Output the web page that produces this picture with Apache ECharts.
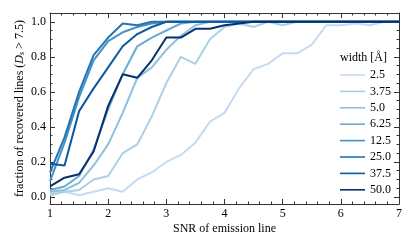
<!DOCTYPE html>
<html><head><meta charset="utf-8">
<script src="https://cdn.jsdelivr.net/npm/echarts@6/dist/echarts.min.js"></script>
<style>html,body{margin:0;padding:0;background:#fff}#c{width:415px;height:249px}</style>
</head><body><div id="c"></div>
<script>
const snr = [1,1.25,1.5,1.75,2,2.25,2.5,2.75,3,3.25,3.5,3.75,4,4.25,4.5,4.75,5,5.25,5.5,5.75,6,6.25,6.5,6.75,7];
const widths = ['2.5','3.75','5.0','6.25','12.5','25.0','37.5','50.0'];
const colors = ['#c6dbef','#abd0e6','#8cc0de','#68abd5','#4592c7','#2474b7','#0e58a2','#08306b'];
const w2_5  = [0.02,0.03,0.01,0.03,0.05,0.03,0.10,0.14,0.20,0.24,0.31,0.43,0.48,0.62,0.73,0.76,0.82,0.82,0.87,0.98,0.98,0.99,0.98,1.0,1.0];
const w3_75 = [0.01,0.03,0.04,0.10,0.12,0.25,0.30,0.46,0.65,0.80,0.76,0.90,0.97,0.99,0.97,1.0,0.98,1.0,1.0,1.0,1.0,1.0,1.0,1.0,1.0];
const w5_0  = [0.03,0.04,0.08,0.18,0.30,0.48,0.68,0.74,0.84,0.92,0.98,1.0,1.0,1.0,1.0,1.0,1.0,1.0,1.0,1.0,1.0,1.0,1.0,1.0,1.0];
const w6_25 = [0.04,0.06,0.12,0.27,0.50,0.70,0.86,0.91,0.95,0.99,1.0,1.0,1.0,1.0,1.0,1.0,1.0,1.0,1.0,1.0,1.0,1.0,1.0,1.0,1.0];
const w12_5 = [0.09,0.31,0.57,0.78,0.89,0.94,0.97,0.99,1.0,1.0,1.0,1.0,1.0,1.0,1.0,1.0,1.0,1.0,1.0,1.0,1.0,1.0,1.0,1.0,1.0];
const w25_0 = [0.14,0.34,0.60,0.81,0.91,0.99,0.98,1.0,1.0,1.0,1.0,1.0,1.0,1.0,1.0,1.0,1.0,1.0,1.0,1.0,1.0,1.0,1.0,1.0,1.0];
const w37_5 = [0.19,0.18,0.49,0.62,0.74,0.86,0.93,0.97,1.0,1.0,1.0,1.0,1.0,1.0,1.0,1.0,1.0,1.0,1.0,1.0,1.0,1.0,1.0,1.0,1.0];
const w50_0 = [0.06,0.11,0.13,0.26,0.52,0.70,0.68,0.78,0.91,0.91,0.96,0.96,0.98,0.99,1.0,1.0,1.0,1.0,1.0,1.0,1.0,1.0,1.0,1.0,1.0];
const values = [w2_5,w3_75,w5_0,w6_25,w12_5,w25_0,w37_5,w50_0];
const yMajor = [0,0.2,0.4,0.6,0.8,1.0];
const yMinor = [0.05,0.1,0.15,0.25,0.3,0.35,0.45,0.5,0.55,0.65,0.7,0.75,0.85,0.9,0.95];

const font = 'Liberation Serif';
const fs = 12;
const axisCol = '#333';
const chart = echarts.init(document.getElementById('c'), null, {renderer:'canvas'});
const xBase = {type:'value', min:1, max:7, interval:1,
  axisLine:{show:true, onZero:false, lineStyle:{color:axisCol, width:1}},
  axisTick:{inside:true, length:5, lineStyle:{color:axisCol}},
  minorTick:{show:true, splitNumber:5, length:2.5, lineStyle:{color:axisCol}},
  splitLine:{show:false}};
const yBase = {type:'value', min:-0.04, max:1.05,
  axisLine:{show:true, onZero:false, lineStyle:{color:axisCol, width:1}},
  splitLine:{show:false}};
chart.setOption({
  animation:false,
  grid:{left:50, right:16, top:13, bottom:45, containLabel:false},
  xAxis:[
    Object.assign({}, xBase, {position:'bottom',
      axisLabel:{color:'#000', fontFamily:font, fontSize:fs, margin:4},
      name:'SNR of emission line', nameLocation:'middle', nameGap:19, nameMoveOverlap:false,
      nameTextStyle:{color:'#000', fontFamily:font, fontSize:fs}}),
    Object.assign({}, xBase, {position:'top', axisLabel:{show:false}})
  ],
  yAxis:[
    Object.assign({}, yBase, {position:'left',
      axisTick:{inside:true, length:5, customValues:yMajor, lineStyle:{color:axisCol}},
      axisLabel:{customValues:yMajor, color:'#000', fontFamily:font, fontSize:fs, margin:4,
        formatter:v=>v.toFixed(1)},
      name:'{n|fraction of recovered lines (}{i|D}{s|s}{n| > 7.5)}', nameLocation:'middle', nameGap:24,
      nameMoveOverlap:false,
      nameTextStyle:{color:'#000', fontFamily:font, fontSize:fs,
        rich:{n:{fontFamily:font,fontSize:fs,color:'#000'},
              i:{fontFamily:font,fontSize:fs,fontStyle:'italic',color:'#000'},
              s:{fontFamily:font,fontSize:8,fontStyle:'italic',color:'#000',verticalAlign:'bottom',padding:[4,0,0,0]}}}}),
    Object.assign({}, yBase, {position:'right',
      axisTick:{inside:true, length:5, customValues:yMajor, lineStyle:{color:axisCol}},
      axisLabel:{show:false}}),
    Object.assign({}, yBase, {position:'left', axisLine:{show:false},
      axisTick:{inside:true, length:2.5, customValues:yMinor, lineStyle:{color:axisCol}},
      axisLabel:{show:false}}),
    Object.assign({}, yBase, {position:'right', axisLine:{show:false},
      axisTick:{inside:true, length:2.5, customValues:yMinor, lineStyle:{color:axisCol}},
      axisLabel:{show:false}})
  ],
  legend:{orient:'vertical', left:335, top:64, itemWidth:25, itemHeight:12, itemGap:4.4,
    textStyle:{fontFamily:font, fontSize:fs, color:'#000', padding:[0,0,0,0]},
    data:widths.map((w,i)=>({name:w, icon:'path://M0,5.2L25,5.2L25,6.8L0,6.8Z', itemStyle:{color:colors[i]}}))},
  graphic:[{type:'text', left:340, top:52, style:{text:'width [Å]', fontFamily:font, fontSize:fs, fill:'#000'}}],
  series: widths.map((w,i)=>({
    name:w, type:'line', symbol:'none', smooth:false,
    xAxisIndex:0, yAxisIndex:0,
    lineStyle:{color:colors[i], width:2},
    itemStyle:{color:colors[i]},
    data: snr.map((x,k)=>[x, values[i][k]])
  }))
});
</script></body></html>
